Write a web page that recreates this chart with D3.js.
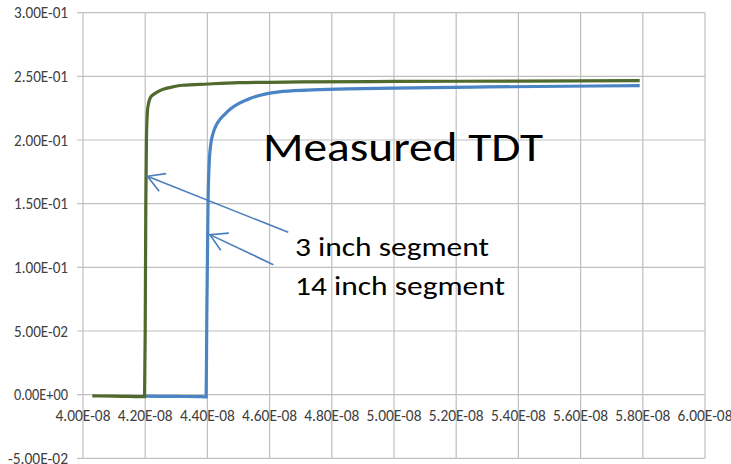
<!DOCTYPE html>
<html><head><meta charset="utf-8">
<script src="https://cdn.jsdelivr.net/npm/d3@7"></script>
<style>body{margin:0;background:#fff}svg{display:block}</style>
</head><body>
<svg id="c" width="731" height="464"></svg>
<script>
// x values in units of 1e-8 s, y values in volts
const xTicks = [4.0,4.2,4.4,4.6,4.8,5.0,5.2,5.4,5.6,5.8,6.0];
const xTickLabels = ["4.00E-08","4.20E-08","4.40E-08","4.60E-08","4.80E-08","5.00E-08","5.20E-08","5.40E-08","5.60E-08","5.80E-08","6.00E-08"];
const yTicks = [-0.05,0,0.05,0.10,0.15,0.20,0.25,0.30];
const yTickLabels = ["-5.00E-02","0.00E+00","5.00E-02","1.00E-01","1.50E-01","2.00E-01","2.50E-01","3.00E-01"];

const seg3X = [4.03,4.10,4.15,4.198,4.200,4.202,4.204,4.207,4.211,4.217,4.225,4.237,4.26,4.29,4.32,4.40,4.50,4.70,5.00,5.40,5.79];
const seg3Y = [-0.001,-0.0012,-0.0014,-0.0016,0.05,0.15,0.20,0.222,0.229,0.2335,0.2355,0.2375,0.2400,0.2418,0.2430,0.2440,0.2450,0.2456,0.2460,0.2463,0.2466];
const seg14X = [4.20,4.30,4.38,4.396,4.398,4.402,4.406,4.411,4.418,4.428,4.44,4.455,4.475,4.50,4.535,4.57,4.63,4.72,4.85,5.00,5.30,5.79];
const seg14Y = [-0.0012,-0.0014,-0.0016,-0.0018,0.06,0.15,0.183,0.197,0.205,0.2115,0.216,0.2200,0.2245,0.2285,0.2325,0.2352,0.2378,0.2392,0.2401,0.2408,0.2417,0.2427];

const title = "Measured TDT";
const labels = ["3 inch segment","14 inch segment"];
// arrow annotations in data units: [fromX, fromY, toX, toY]
const arrows = [[4.660,0.1275,4.207,0.1715],[4.612,0.1021,4.408,0.1257]];

const svg = d3.select("#c");
const x = d3.scaleLinear().domain([4.0,6.0]).range([83,705]);
const y = d3.scaleLinear().domain([-0.05,0.30]).range([458.3,12.7]);
const grid = "#bfbfbf";
const font = "Carlito, 'Open Sans', Calibri, sans-serif";

// gridlines
svg.append("g").selectAll("line").data(xTicks).join("line")
  .attr("x1",d=>x(d)).attr("x2",d=>x(d)).attr("y1",y(0.30)).attr("y2",y(-0.05))
  .attr("stroke",grid).attr("stroke-width",1.2);
svg.append("g").selectAll("line").data(yTicks).join("line")
  .attr("x1",x(4.0)-6).attr("x2",x(6.0)).attr("y1",d=>y(d)).attr("y2",d=>y(d))
  .attr("stroke",grid).attr("stroke-width",1.2);

// y tick labels
svg.append("g").selectAll("text").data(yTicks).join("text")
  .attr("x",x(4.0)-15).attr("y",d=>y(d)).attr("dy","0.36em")
  .attr("text-anchor","end").attr("font-family",font).attr("font-size",16)
  .attr("textLength",(d,i)=>yTickLabels[i].length>8?60:54).attr("lengthAdjust","spacingAndGlyphs")
  .attr("fill","#404040").text((d,i)=>yTickLabels[i]);
// x tick labels
svg.append("g").selectAll("text").data(xTicks).join("text")
  .attr("x",d=>x(d)).attr("y",y(0)+26)
  .attr("text-anchor","middle").attr("font-family",font).attr("font-size",16)
  .attr("textLength",55).attr("lengthAdjust","spacingAndGlyphs")
  .attr("fill","#404040").text((d,i)=>xTickLabels[i]);

const line = d3.line().x(d=>x(d[0])).y(d=>y(d[1])).curve(d3.curveMonotoneX);
svg.append("path").datum(seg14X.map((v,i)=>[v,seg14Y[i]]))
  .attr("d",line).attr("fill","none").attr("stroke","#4a84c4").attr("stroke-width",3.2);
svg.append("path").datum(seg3X.map((v,i)=>[v,seg3Y[i]]))
  .attr("d",line).attr("fill","none").attr("stroke","#4f6a2c").attr("stroke-width",3.2);

// arrows
const ac = "#4a7ebb";
arrows.forEach(a=>{
  const x1=x(a[0]),y1=y(a[1]),x2=x(a[2]),y2=y(a[3]);
  svg.append("line").attr("x1",x1).attr("y1",y1).attr("x2",x2).attr("y2",y2)
    .attr("stroke",ac).attr("stroke-width",1.6);
  const ang=Math.atan2(y1-y2,x1-x2), L=19, sp=0.52;
  const p=[[x2+L*Math.cos(ang+sp),y2+L*Math.sin(ang+sp)],[x2,y2],[x2+L*Math.cos(ang-sp),y2+L*Math.sin(ang-sp)]];
  svg.append("path").attr("d",d3.line()(p)).attr("fill","none").attr("stroke",ac).attr("stroke-width",1.6);
});

// texts
svg.append("text").attr("x",263).attr("y",161).attr("font-family",font).attr("font-size",40)
  .attr("fill","#000").attr("textLength",280).attr("lengthAdjust","spacingAndGlyphs").text(title);
svg.append("text").attr("x",295).attr("y",256).attr("font-family",font).attr("font-size",26.5)
  .attr("fill","#000").attr("textLength",194).attr("lengthAdjust","spacingAndGlyphs").text(labels[0]);
svg.append("text").attr("x",295).attr("y",295).attr("font-family",font).attr("font-size",26.5)
  .attr("fill","#000").attr("textLength",210).attr("lengthAdjust","spacingAndGlyphs").text(labels[1]);
</script>
</body></html>
